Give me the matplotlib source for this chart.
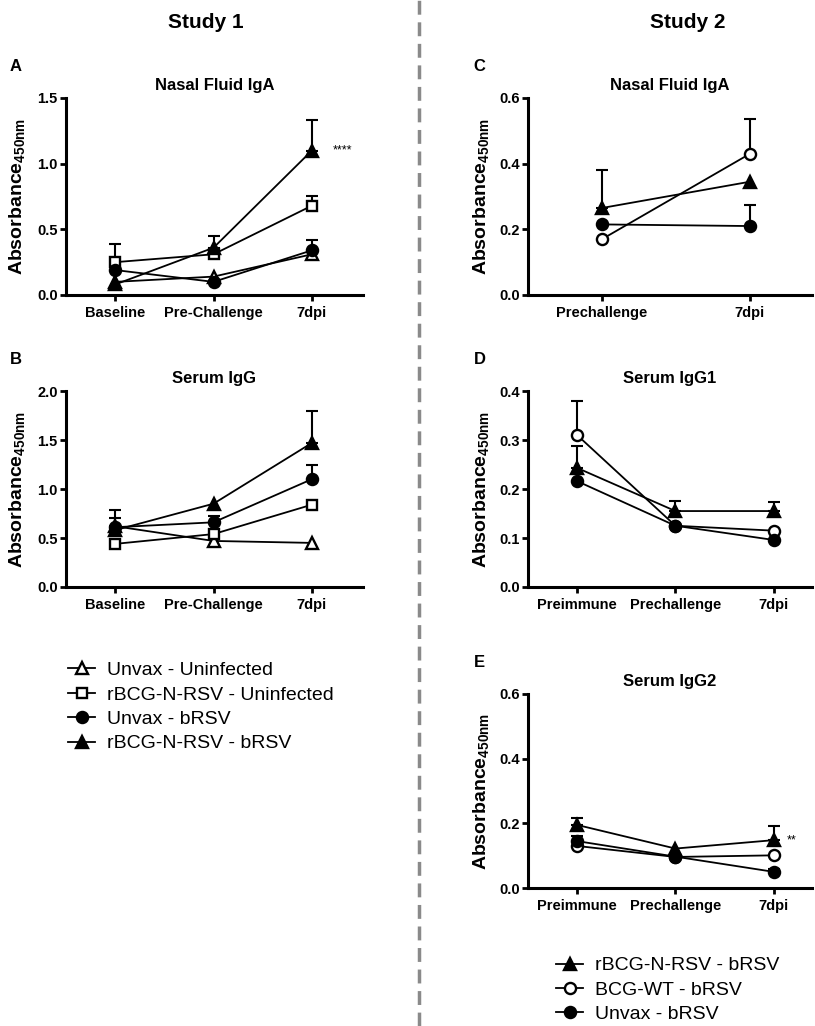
import numpy as np
import matplotlib
matplotlib.use('Agg')
import matplotlib.pyplot as plt
from matplotlib.lines import Line2D

plt.rcParams['font.family'] = ['Liberation Sans', 'DejaVu Sans']
plt.rcParams['font.weight'] = 'bold'
plt.rcParams['mathtext.fontset'] = 'custom'
plt.rcParams['mathtext.bf'] = 'Liberation Sans:bold'
plt.rcParams['mathtext.default'] = 'bf'

# ---- data (mean, top of error bar; 0 = no error bar drawn) ----
s1_days = ['Baseline', 'Pre-Challenge', '7dpi']
s1_labels = ['Unvax - Uninfected', 'rBCG-N-RSV - Uninfected', 'Unvax - bRSV', 'rBCG-N-RSV - bRSV']
s1_markers = ['^', 's', 'o', '^']
s1_open = [True, True, False, False]

a_mean = [[0.10, 0.14, 0.31],
          [0.25, 0.31, 0.68],
          [0.19, 0.10, 0.34],
          [0.08, 0.36, 1.10]]
a_err = [[0, 0, 0],
         [0.39, 0, 0.75],
         [0, 0, 0.42],
         [0, 0.45, 1.33]]

b_mean = [[0.62, 0.47, 0.45],
          [0.44, 0.54, 0.84],
          [0.61, 0.66, 1.10],
          [0.58, 0.85, 1.47]]
b_err = [[0.79, 0, 0],
         [0, 0, 0],
         [0.70, 0.72, 1.24],
         [0, 0, 1.80]]

s2_labels = ['rBCG-N-RSV - bRSV', 'BCG-WT - bRSV', 'Unvax - bRSV']
s2_markers = ['^', 'o', 'o']
s2_open = [False, True, False]

c_days = ['Prechallenge', '7dpi']
c_mean = [[0.265, 0.345],
          [0.17, 0.43],
          [0.215, 0.21]]
c_err = [[0.38, 0],
         [0, 0.535],
         [0, 0.275]]

de_days = ['Preimmune', 'Prechallenge', '7dpi']
d_mean = [[0.243, 0.155, 0.155],
          [0.31, 0.125, 0.115],
          [0.216, 0.125, 0.096]]
d_err = [[0.287, 0.175, 0.173],
         [0.38, 0, 0],
         [0, 0, 0]]

e_mean = [[0.195, 0.122, 0.148],
          [0.13, 0.096, 0.101],
          [0.145, 0.097, 0.05]]
e_err = [[0.217, 0, 0.192],
         [0, 0, 0],
         [0.16, 0, 0.06]]

W, H = 815, 1026
fig = plt.figure(figsize=(W / 100, H / 100), dpi=100)


def rect(l, r, t, b):
    return [l / W, 1 - b / H, (r - l) / W, (b - t) / H]


def panel(box, days, means, errs, markers, opens, title, letter, ylim, yticks, xmax):
    ax = fig.add_axes(rect(*box))
    x = np.arange(len(days))
    handles = []
    for m, e, mk, op in zip(means, errs, markers, opens):
        m = np.array(m, float)
        e = np.array(e, float)
        has = e > 0
        if has.any():
            ax.errorbar(x[has], m[has], yerr=[np.zeros(has.sum()), e[has] - m[has]],
                        fmt='none', ecolor='black', elinewidth=1.5, capsize=4, capthick=1.5, zorder=2)
        h, = ax.plot(x, m, color='black', lw=1.3, marker=mk, ms=8 if mk != 's' else 7.5,
                     mfc='white' if op else 'black', mec='black', mew=1.7, zorder=3)
        handles.append(h)
    ax.set_xlim(-0.5, xmax)
    ax.set_ylim(*ylim)
    ax.set_yticks(yticks)
    ax.set_yticklabels(['%.1f' % v for v in yticks])
    ax.set_xticks(x)
    ax.set_xticklabels(days)
    for s in ['top', 'right']:
        ax.spines[s].set_visible(False)
    for s in ['left', 'bottom']:
        ax.spines[s].set_linewidth(2.2)
    ax.tick_params(axis='both', width=2, length=4, labelsize=10.5)
    ax.tick_params(axis='y', pad=2)
    ax.tick_params(axis='x', pad=4)
    ax.set_title(title, fontsize=12, fontweight='bold', pad=6)
    ax.set_ylabel('Absorbance$_{450nm}$', fontsize=14, fontweight='bold')
    ax.text(-0.17, 1.16, letter, transform=ax.transAxes, fontsize=12, fontweight='bold',
            ha='center', va='center')
    return ax, handles


axA, hA = panel((66, 363, 98, 295), s1_days, a_mean, a_err, s1_markers, s1_open,
                'Nasal Fluid IgA', 'A', (0, 1.5), [0, 0.5, 1.0, 1.5], 2.52)
axA.yaxis.set_label_coords(-0.13, 0.5)
axA.text(2.31, 1.10, '****', fontsize=9, fontweight='normal', ha='center', va='center', clip_on=False)

axB, hB = panel((66, 363, 391, 587), s1_days, b_mean, b_err, s1_markers, s1_open,
                'Serum IgG', 'B', (0, 2.0), [0, 0.5, 1.0, 1.5, 2.0], 2.52)
axB.yaxis.set_label_coords(-0.13, 0.5)

axC, hC = panel((528, 812, 98, 295), c_days, c_mean, c_err, s2_markers, s2_open,
                'Nasal Fluid IgA', 'C', (0, 0.6), [0, 0.2, 0.4, 0.6], 1.42)
axC.yaxis.set_label_coords(-0.13, 0.5)

axD, hD = panel((528, 812, 391, 587), de_days, d_mean, d_err, s2_markers, s2_open,
                'Serum IgG1', 'D', (0, 0.4), [0, 0.1, 0.2, 0.3, 0.4], 2.39)
axD.yaxis.set_label_coords(-0.13, 0.5)

axE, hE = panel((528, 812, 694, 888), de_days, e_mean, e_err, s2_markers, s2_open,
                'Serum IgG2', 'E', (0, 0.6), [0, 0.2, 0.4, 0.6], 2.39)
axE.yaxis.set_label_coords(-0.13, 0.5)
axE.text(2.18, 0.148, '**', fontsize=9, fontweight='normal', ha='center', va='center', clip_on=False)

fig.text(206 / W, 1 - 23 / H, 'Study 1', fontsize=15, fontweight='bold', ha='center', va='center')
fig.text(688 / W, 1 - 23 / H, 'Study 2', fontsize=15, fontweight='bold', ha='center', va='center')

fig.add_artist(Line2D([419 / W, 419 / W], [0, 1], transform=fig.transFigure,
                      color='#8a8a8a', lw=2.5, dashes=(4, 2.2)))

fig.legend(hA, s1_labels, loc='center left', bbox_to_anchor=(68 / W, 1 - 707 / H),
           frameon=False, prop={'weight': 'normal', 'size': 14}, handlelength=1.4,
           handletextpad=0.6, labelspacing=0.35, borderpad=0, borderaxespad=0)
fig.legend(hE, s2_labels, loc='center left', bbox_to_anchor=(556 / W, 1 - 990 / H),
           frameon=False, prop={'weight': 'normal', 'size': 14}, handlelength=1.4,
           handletextpad=0.6, labelspacing=0.35, borderpad=0, borderaxespad=0)

fig.savefig('out.png', dpi=100)
